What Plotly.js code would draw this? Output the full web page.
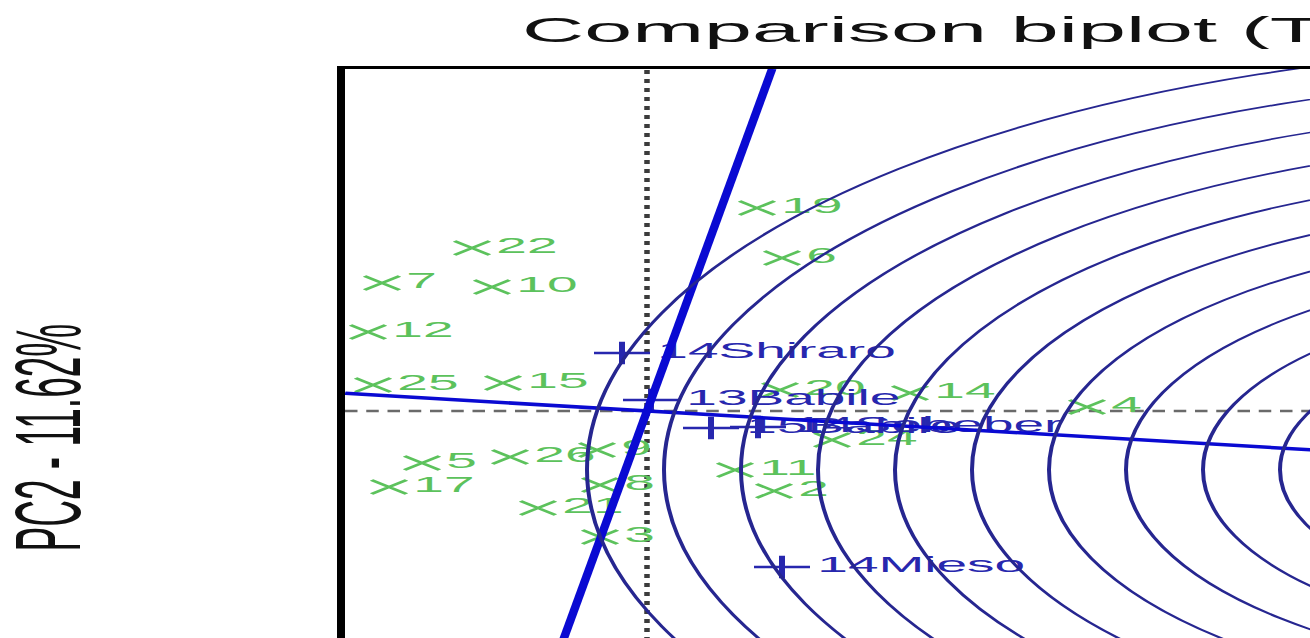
<!DOCTYPE html>
<html>
<head>
<meta charset="utf-8">
<script src="https://cdn.plot.ly/plotly-3.0.1.min.js"></script>
<style>
  html, body { margin: 0; padding: 0; width: 1310px; height: 638px; overflow: hidden; background: #fff; }
  /* the figure is laid out in narrow units and widened horizontally */
  #chart { width: 800px; height: 1000px; transform: scaleX(2.5); transform-origin: 0 0; }
</style>
</head>
<body>
<div id="chart"></div>
<script>
// Environment scores (green "x")
const envLabels = ['19', '6', '22', '7', '10', '12', '25', '15', '5', '17', '26', '9', '8', '21', '3', '11', '2', '14', '4', '20', '24'];
const envPC1 = [0.440, 0.540, -0.700, -1.060, -0.620, -1.116, -1.096, -0.576, -0.900, -1.032, -0.548, -0.200, -0.188, -0.436, -0.188, 0.352, 0.508, 1.052, 1.760, 0.532, 0.740];
const envPC2 = [2.03, 1.53, 1.63, 1.28, 1.24, 0.79, 0.26, 0.28, -0.52, -0.76, -0.46, -0.39, -0.74, -0.97, -1.26, -0.59, -0.80, 0.18, 0.04, 0.21, -0.29];

// Genotype scores (blue "+")
const genoLabels = ['14Shiraro', '13Babile', '15Babile', '14Sebeber', '14Mieso'];
const genoPC1 = [-0.100, 0.016, 0.256, 0.444, 0.540];
const genoPC2 = [0.58, 0.11, -0.17, -0.16, -1.56];

// Ideal point and the concentric distance rings around it
const idealPoint = [4.012, -0.587];
const ringInner = 0.248;
const ringStep = 0.308;
const ringCount = 14;

const xRange = [-1.208, 4.792];
const yRange = [-4.91, 3.42];

const FONT = 'Liberation Sans, Arial, Helvetica, sans-serif';
const GREEN = '#5cc25c';
const BLUE = '#2727ae';
const RING = '#262690';
const AXIS_BLUE = '#0a0ad2';

// Axis through the origin and the ideal point, and its perpendicular
const slope = idealPoint[1] / idealPoint[0];
const aecX = [xRange[0], xRange[1]];
const aecY = aecX.map(v => slope * v);
const perpY = [yRange[0], yRange[1]];
const perpX = perpY.map(v => -slope * v);

const traces = [
  {
    type: 'scatter', mode: 'markers+text',
    x: envPC1, y: envPC2, text: envLabels, textposition: 'middle right',
    textfont: { family: FONT, size: 22, color: GREEN },
    marker: { symbol: 'x-thin', size: 14, color: GREEN, line: { width: 2, color: GREEN } },
    cliponaxis: true, hoverinfo: 'skip'
  },
  {
    // genotype crosses
    type: 'scatter', mode: 'markers',
    x: genoPC1, y: genoPC2,
    marker: { symbol: 'cross-thin', size: 16, color: BLUE, line: { width: 2.4, color: BLUE } },
    cliponaxis: true, hoverinfo: 'skip'
  },
  {
    // genotype names, set a little further from the cross
    type: 'scatter', mode: 'markers+text',
    x: genoPC1, y: genoPC2, text: genoLabels, textposition: 'middle right',
    textfont: { family: FONT, size: 22, color: BLUE },
    marker: { size: 21, color: 'rgba(0,0,0,0)' },
    cliponaxis: true, hoverinfo: 'skip'
  },
  {
    type: 'scatter', mode: 'lines', x: aecX, y: aecY,
    line: { color: AXIS_BLUE, width: 3.5 }, hoverinfo: 'skip'
  },
  {
    type: 'scatter', mode: 'lines', x: perpX, y: perpY,
    line: { color: AXIS_BLUE, width: 3.5 }, hoverinfo: 'skip'
  }
];

const shapes = [
  { type: 'line', xref: 'x', yref: 'y', x0: xRange[0], x1: xRange[1], y0: 0, y1: 0, layer: 'below',
    line: { color: '#6a6a6a', width: 2.6, dash: '5px,3.5px' } },
  { type: 'line', xref: 'x', yref: 'y', x0: 0, x1: 0, y0: yRange[0], y1: yRange[1], layer: 'below',
    line: { color: '#3c3c3c', width: 2.2, dash: '4px,5px' } }
];
for (let j = 0; j < ringCount; j++) {
  const r = ringInner + j * ringStep;
  shapes.push({
    type: 'circle', xref: 'x', yref: 'y',
    x0: idealPoint[0] - r, x1: idealPoint[0] + r,
    y0: idealPoint[1] - r, y1: idealPoint[1] + r,
    line: { color: RING, width: 1.6 }, fillcolor: 'rgba(0,0,0,0)', layer: 'above'
  });
}

const axisCommon = {
  showgrid: false, zeroline: false, showticklabels: false, ticks: '',
  showline: true, linecolor: '#000', linewidth: 3.4, mirror: true, fixedrange: true
};

const layout = {
  width: 800, height: 1000,
  margin: { l: 138, r: 62, t: 69, b: 98 },
  paper_bgcolor: '#fff', plot_bgcolor: '#fff',
  showlegend: false,
  title: {
    text: 'Comparison biplot (Total - 88.37%)',
    xref: 'container', x: 0.261, xanchor: 'left',
    yref: 'container', y: 0.97, yanchor: 'middle',
    font: { family: FONT, size: 34.5, color: '#111' }
  },
  xaxis: Object.assign({ range: xRange }, axisCommon),
  yaxis: Object.assign({ range: yRange }, axisCommon),
  shapes: shapes,
  annotations: [
    {
      text: 'PC2 - 11.62%', xref: 'paper', yref: 'paper', x: 0, y: 0.558,
      xanchor: 'center', yanchor: 'middle', xshift: -118.8, textangle: -90,
      showarrow: false, font: { family: FONT, size: 37, color: '#111' }
    }
  ]
};

Plotly.newPlot('chart', traces, layout, { displayModeBar: false, staticPlot: true });
</script>
</body>
</html>
